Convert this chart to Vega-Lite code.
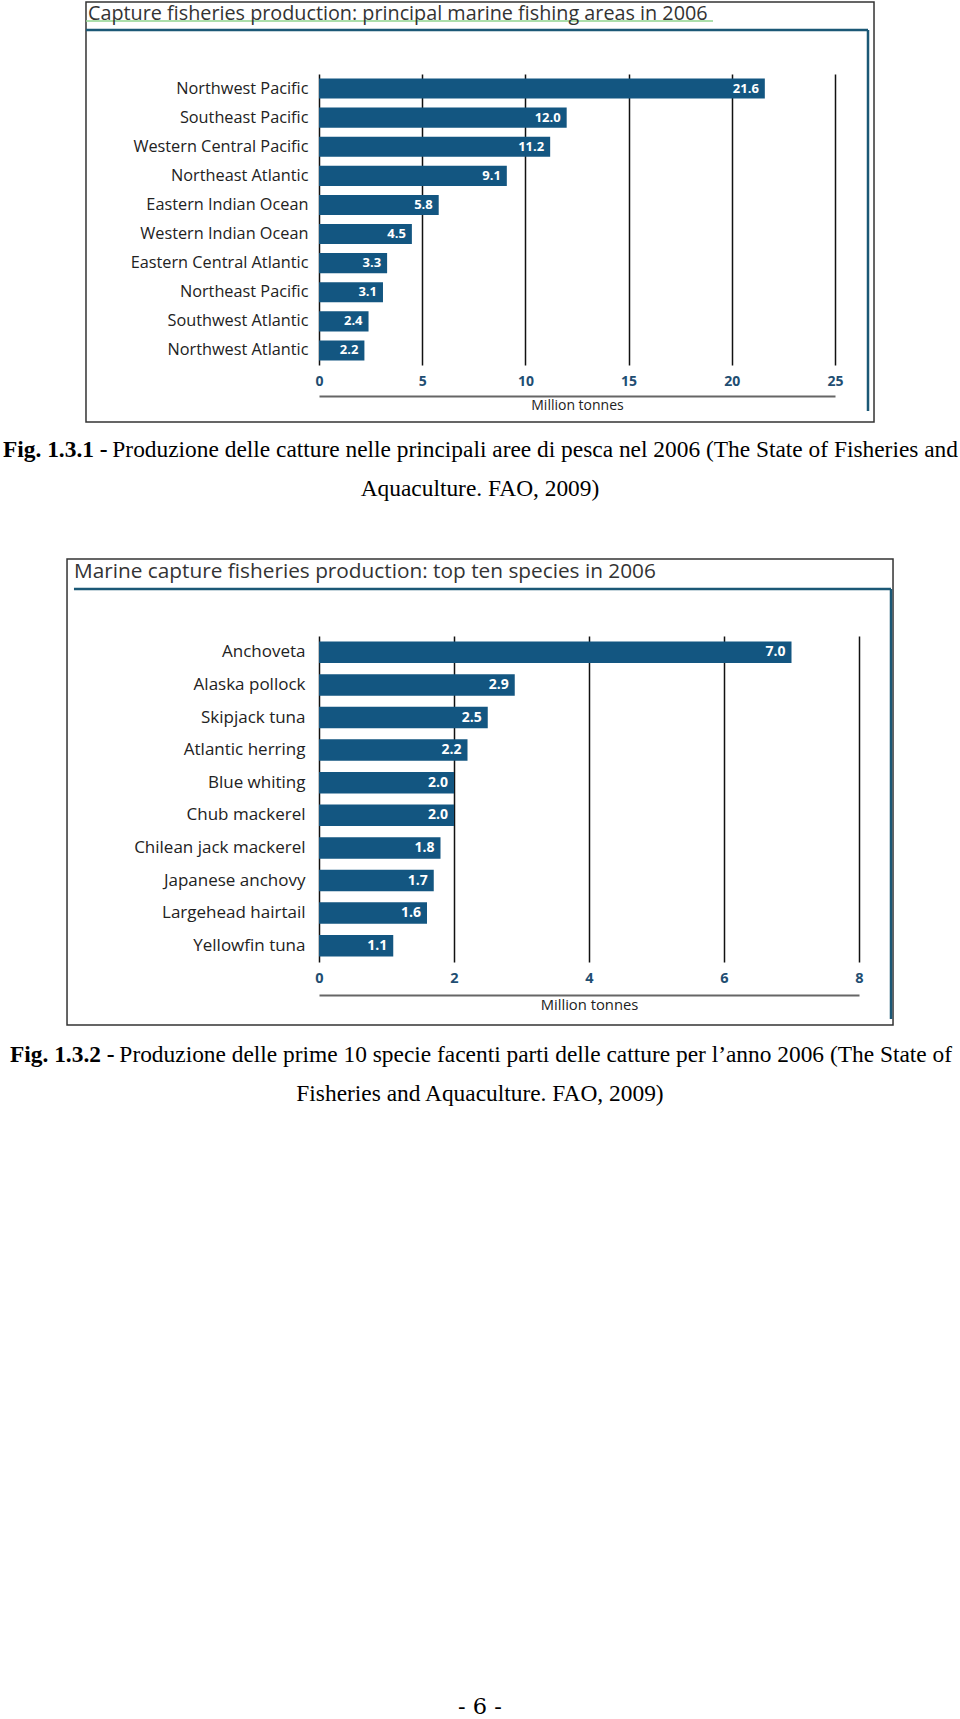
{
  "$schema": "https://vega.github.io/schema/vega-lite/v6.json",
  "padding": 0,
  "spacing": 0,
  "background": "white",
  "config": {"view": {"stroke": null}, "font": "Open Sans", "concat": {"spacing": 0}},
  "datasets": {
    "areas": [
      {"area": "Northwest Pacific", "catch": 21.6},
      {"area": "Southeast Pacific", "catch": 12.0},
      {"area": "Western Central Pacific", "catch": 11.2},
      {"area": "Northeast Atlantic", "catch": 9.1},
      {"area": "Eastern Indian Ocean", "catch": 5.8},
      {"area": "Western Indian Ocean", "catch": 4.5},
      {"area": "Eastern Central Atlantic", "catch": 3.3},
      {"area": "Northeast Pacific", "catch": 3.1},
      {"area": "Southwest Atlantic", "catch": 2.4},
      {"area": "Northwest Atlantic", "catch": 2.2}
    ],
    "species": [
      {"species": "Anchoveta", "catch": 7.0},
      {"species": "Alaska pollock", "catch": 2.9},
      {"species": "Skipjack tuna", "catch": 2.5},
      {"species": "Atlantic herring", "catch": 2.2},
      {"species": "Blue whiting", "catch": 2.0},
      {"species": "Chub mackerel", "catch": 2.0},
      {"species": "Chilean jack mackerel", "catch": 1.8},
      {"species": "Japanese anchovy", "catch": 1.7},
      {"species": "Largehead hairtail", "catch": 1.6},
      {"species": "Yellowfin tuna", "catch": 1.1}
    ]
  },
  "vconcat": [
    {
      "width": 516,
      "height": 291,
      "layer": [
        {
          "data": {"name": "areas"},
          "mark": {"type": "bar", "color": "#135681"},
          "encoding": {
            "y": {
              "field": "area",
              "type": "nominal",
              "scale": {
                "domain": ["Northwest Pacific", "Southeast Pacific", "Western Central Pacific", "Northeast Atlantic", "Eastern Indian Ocean", "Western Indian Ocean", "Eastern Central Atlantic", "Northeast Pacific", "Southwest Atlantic", "Northwest Atlantic"],
                "paddingInner": 0.31,
                "paddingOuter": 0.155
              },
              "axis": {"title": null, "domain": false, "ticks": false, "grid": false, "labelPadding": 11, "labelFont": "Open Sans", "labelFontSize": 16.3, "labelColor": "#222222", "labelLimit": 300}
            },
            "x": {
              "field": "catch",
              "type": "quantitative",
              "scale": {"domain": [0, 25], "nice": false},
              "axis": {
                "values": [0, 5, 10, 15, 20, 25], "format": "d",
                "grid": true, "gridColor": "#111111", "gridWidth": 1.5, "gridOpacity": 1,
                "domain": true, "domainColor": "#666666", "domainWidth": 2,
                "ticks": false, "offset": 31, "labelPadding": -22,
                "labelFont": "Open Sans", "labelFontWeight": "bold", "labelFontSize": 14, "labelColor": "#1f4e72",
                "labelFlush": false, "labelOverlap": false,
                "title": "Million tonnes", "titleFont": "Open Sans", "titleFontWeight": "normal", "titleFontSize": 14, "titleColor": "#222222", "titlePadding": 2
              }
            }
          }
        },
        {
          "data": {"name": "areas"},
          "mark": {"type": "text", "align": "right", "baseline": "middle", "dx": -6, "font": "Open Sans", "fontWeight": "bold", "fontSize": 13, "color": "white"},
          "encoding": {
            "y": {"field": "area", "type": "nominal"},
            "x": {"field": "catch", "type": "quantitative"},
            "text": {"field": "catch", "type": "quantitative", "format": ".1f"}
          }
        },
        {
          "data": {"values": [{}]},
          "mark": {"type": "rule", "opacity": 0, "strokeWidth": 0.1},
          "encoding": {
            "x": {"datum": -15.407},
            "x2": {"datum": 31.105},
            "y": {"datum": "Northwest Pacific", "bandPosition": -3.910},
            "y2": {"datum": "Northwest Atlantic", "bandPosition": 9.442}
          }
        },
        {
          "data": {"values": [{}]},
          "mark": {"type": "rect", "fill": "transparent", "stroke": "#333333", "strokeWidth": 1.5},
          "encoding": {
            "x": {"datum": -11.289},
            "x2": {"datum": 26.890},
            "y": {"datum": "Northwest Pacific", "bandPosition": -3.810},
            "y2": {"datum": "Northwest Atlantic", "bandPosition": 4.063}
          }
        },
        {
          "data": {"values": [{}]},
          "mark": {"type": "rule", "color": "#8fd48f", "strokeWidth": 1.5},
          "encoding": {
            "x": {"datum": -11.289},
            "x2": {"datum": 19.089},
            "y": {"datum": "Northwest Pacific", "bandPosition": -2.864}
          }
        },
        {
          "data": {"values": [{}]},
          "mark": {"type": "rule", "color": "#1b5876", "strokeWidth": 2.5},
          "encoding": {
            "x": {"datum": -11.289},
            "x2": {"datum": 26.599},
            "y": {"datum": "Northwest Pacific", "bandPosition": -2.416}
          }
        },
        {
          "data": {"values": [{}]},
          "mark": {"type": "rule", "color": "#1b5876", "strokeWidth": 2.5},
          "encoding": {
            "x": {"datum": 26.599},
            "y": {"datum": "Northwest Pacific", "bandPosition": -2.416},
            "y2": {"datum": "Northwest Atlantic", "bandPosition": 3.515}
          }
        },
        {
          "data": {"values": [{}]},
          "mark": {"type": "text", "align": "left", "baseline": "middle", "dx": 2, "font": "Open Sans", "fontSize": 19.8, "color": "#333333"},
          "encoding": {
            "x": {"datum": -11.289},
            "y": {"datum": "Northwest Pacific", "bandPosition": -3.213},
            "text": {"value": "Capture fisheries production: principal marine fishing areas in 2006"}
          }
        },
        {
          "data": {"values": [{}]},
          "mark": {"type": "text", "align": "left", "baseline": "middle", "font": "Liberation Serif", "fontSize": 23.4, "fontWeight": "bold", "color": "#000000"},
          "encoding": {
            "x": {"datum": -15.310},
            "y": {"datum": "Northwest Atlantic", "bandPosition": 5.458},
            "text": {"value": "Fig. 1.3.1 -"}
          }
        },
        {
          "data": {"values": [{}]},
          "mark": {"type": "text", "align": "right", "baseline": "middle", "font": "Liberation Serif", "fontSize": 23.4, "color": "#000000"},
          "encoding": {
            "x": {"datum": 30.959},
            "y": {"datum": "Northwest Atlantic", "bandPosition": 5.458},
            "text": {"value": "Produzione delle catture nelle principali aree di pesca nel 2006 (The State of Fisheries and"}
          }
        },
        {
          "data": {"values": [{}]},
          "mark": {"type": "text", "align": "center", "baseline": "middle", "font": "Liberation Serif", "fontSize": 23.4, "color": "#000000"},
          "encoding": {
            "x": {"datum": 7.800},
            "y": {"datum": "Northwest Atlantic", "bandPosition": 7.400},
            "text": {"value": "Aquaculture. FAO, 2009)"}
          }
        }
      ]
    },
    {
      "width": 540,
      "height": 326,
      "layer": [
        {
          "data": {"name": "species"},
          "mark": {"type": "bar", "color": "#135681"},
          "encoding": {
            "y": {
              "field": "species",
              "type": "nominal",
              "scale": {
                "domain": ["Anchoveta", "Alaska pollock", "Skipjack tuna", "Atlantic herring", "Blue whiting", "Chub mackerel", "Chilean jack mackerel", "Japanese anchovy", "Largehead hairtail", "Yellowfin tuna"],
                "paddingInner": 0.34,
                "paddingOuter": 0.17
              },
              "axis": {"title": null, "domain": false, "ticks": false, "grid": false, "labelPadding": 14, "labelFont": "Open Sans", "labelFontSize": 17, "labelColor": "#222222", "labelLimit": 300}
            },
            "x": {
              "field": "catch",
              "type": "quantitative",
              "scale": {"domain": [0, 8], "nice": false},
              "axis": {
                "values": [0, 2, 4, 6, 8], "format": "d",
                "grid": true, "gridColor": "#111111", "gridWidth": 1.5, "gridOpacity": 1,
                "domain": true, "domainColor": "#666666", "domainWidth": 2,
                "ticks": false, "offset": 33, "labelPadding": -23.5,
                "labelFont": "Open Sans", "labelFontWeight": "bold", "labelFontSize": 14.5, "labelColor": "#1f4e72",
                "labelFlush": false, "labelOverlap": false,
                "title": "Million tonnes", "titleFont": "Open Sans", "titleFontWeight": "normal", "titleFontSize": 14.8, "titleColor": "#222222", "titlePadding": 2
              }
            }
          }
        },
        {
          "data": {"name": "species"},
          "mark": {"type": "text", "align": "right", "baseline": "middle", "dx": -6, "font": "Open Sans", "fontWeight": "bold", "fontSize": 14, "color": "white"},
          "encoding": {
            "y": {"field": "species", "type": "nominal"},
            "x": {"field": "catch", "type": "quantitative"},
            "text": {"field": "catch", "type": "quantitative", "format": ".1f"}
          }
        },
        {
          "data": {"values": [{}]},
          "mark": {"type": "rule", "opacity": 0, "strokeWidth": 0.1},
          "encoding": {
            "x": {"datum": -4.711},
            "x2": {"datum": 9.511},
            "y": {"datum": "Anchoveta", "bandPosition": -5.183},
            "y2": {"datum": "Yellowfin tuna", "bandPosition": 36.434}
          }
        },
        {
          "data": {"values": [{}]},
          "mark": {"type": "rect", "fill": "transparent", "stroke": "#333333", "strokeWidth": 1.5},
          "encoding": {
            "x": {"datum": -3.733},
            "x2": {"datum": 8.504},
            "y": {"datum": "Anchoveta", "bandPosition": -3.836},
            "y2": {"datum": "Yellowfin tuna", "bandPosition": 4.185}
          }
        },
        {
          "data": {"values": [{}]},
          "mark": {"type": "rule", "color": "#1b5876", "strokeWidth": 2.5},
          "encoding": {
            "x": {"datum": -3.630},
            "x2": {"datum": 8.474},
            "y": {"datum": "Anchoveta", "bandPosition": -2.442}
          }
        },
        {
          "data": {"values": [{}]},
          "mark": {"type": "rule", "color": "#1b5876", "strokeWidth": 2.5},
          "encoding": {
            "x": {"datum": 8.474},
            "y": {"datum": "Anchoveta", "bandPosition": -2.442},
            "y2": {"datum": "Yellowfin tuna", "bandPosition": 3.906}
          }
        },
        {
          "data": {"values": [{}]},
          "mark": {"type": "text", "align": "left", "baseline": "middle", "font": "Open Sans", "fontSize": 20.8, "color": "#333333"},
          "encoding": {
            "x": {"datum": -3.630},
            "y": {"datum": "Anchoveta", "bandPosition": -3.231},
            "text": {"value": "Marine capture fisheries production: top ten species in 2006"}
          }
        },
        {
          "data": {"values": [{}]},
          "mark": {"type": "text", "align": "left", "baseline": "middle", "font": "Liberation Serif", "fontSize": 23.4, "fontWeight": "bold", "color": "#000000"},
          "encoding": {
            "x": {"datum": -4.578},
            "y": {"datum": "Yellowfin tuna", "bandPosition": 5.579},
            "text": {"value": "Fig. 1.3.2 -"}
          }
        },
        {
          "data": {"values": [{}]},
          "mark": {"type": "text", "align": "right", "baseline": "middle", "font": "Liberation Serif", "fontSize": 23.4, "color": "#000000"},
          "encoding": {
            "x": {"datum": 9.378},
            "y": {"datum": "Yellowfin tuna", "bandPosition": 5.579},
            "text": {"value": "Produzione delle prime 10 specie facenti parti delle catture per l’anno 2006 (The State of"}
          }
        },
        {
          "data": {"values": [{}]},
          "mark": {"type": "text", "align": "center", "baseline": "middle", "font": "Liberation Serif", "fontSize": 23.4, "color": "#000000"},
          "encoding": {
            "x": {"datum": 2.385},
            "y": {"datum": "Yellowfin tuna", "bandPosition": 7.391},
            "text": {"value": "Fisheries and Aquaculture. FAO, 2009)"}
          }
        },
        {
          "data": {"values": [{}]},
          "mark": {"type": "text", "align": "center", "baseline": "middle", "font": "DejaVu Serif", "fontSize": 22.5, "color": "#000000"},
          "encoding": {
            "x": {"datum": 2.385},
            "y": {"datum": "Yellowfin tuna", "bandPosition": 35.876},
            "text": {"value": "- 6 -"}
          }
        }
      ]
    }
  ]
}
